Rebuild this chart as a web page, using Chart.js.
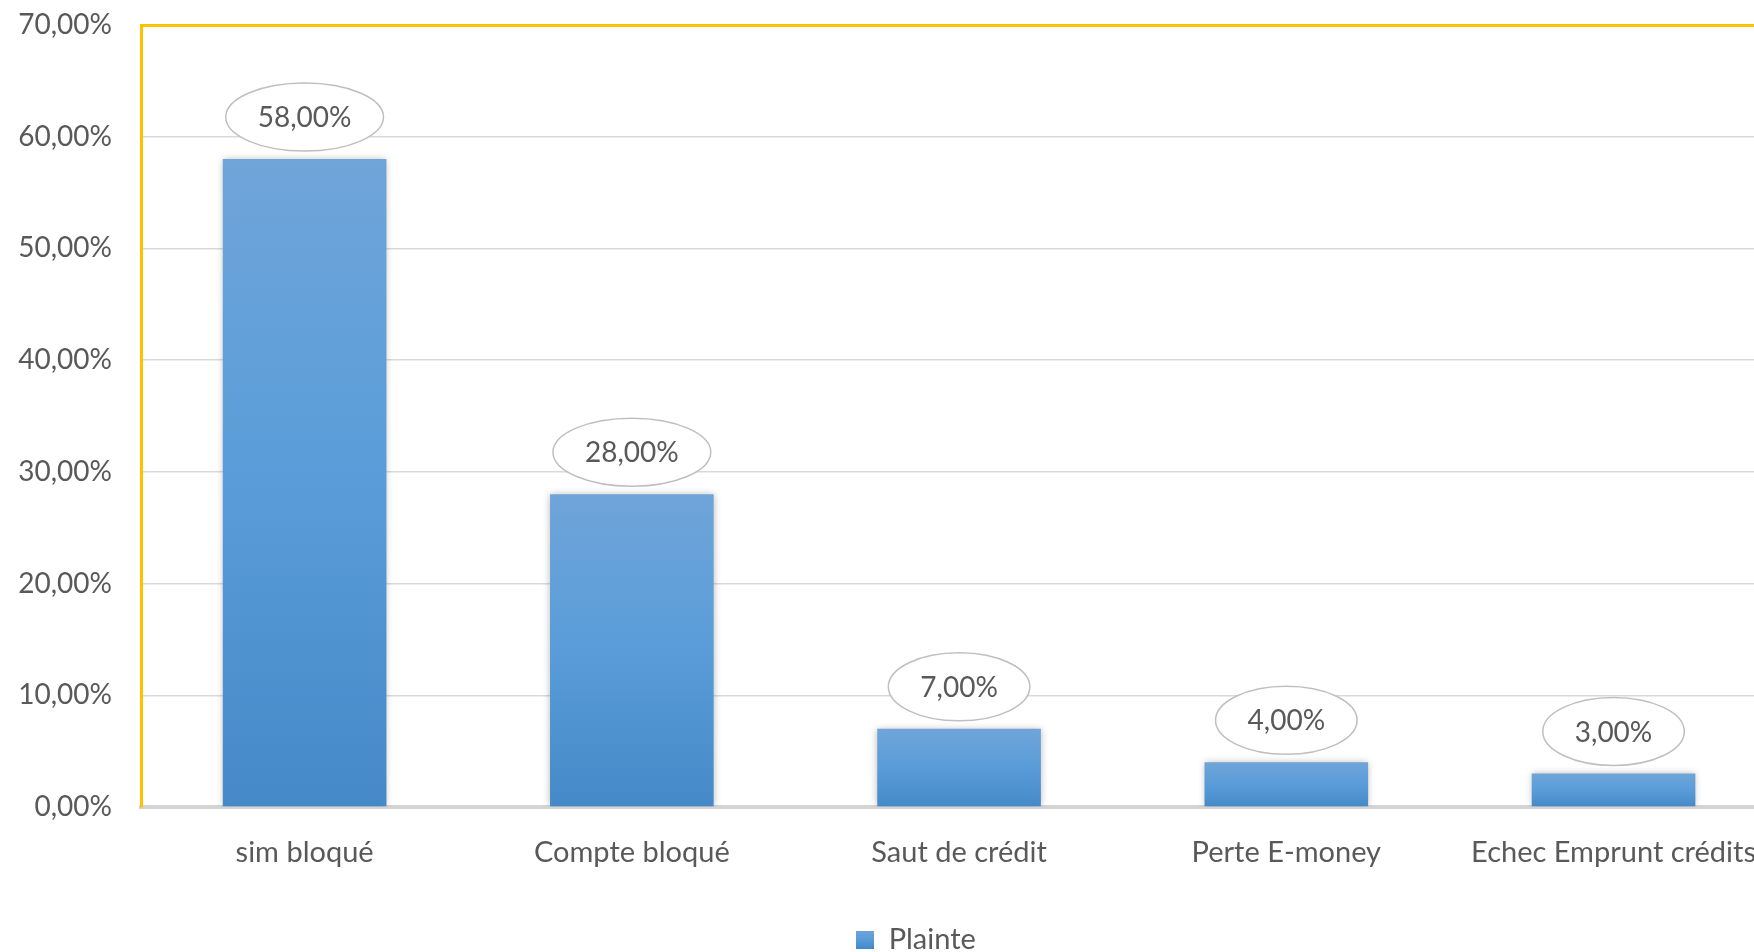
<!DOCTYPE html>
<html>
<head>
<meta charset="utf-8">
<script src="https://cdn.jsdelivr.net/npm/chart.js@4"></script>
<style>
  html, body { margin: 0; padding: 0; background: #fff; overflow: hidden; }
  #wrap { width: 1784px; height: 952px; }
</style>
</head>
<body>
<div id="wrap"><canvas id="chart" width="1784" height="952"></canvas></div>
<script>
  const categories = ['sim bloqué', 'Compte bloqué', 'Saut de crédit', 'Perte E-money', 'Echec Emprunt crédits'];
  const plainteValues = [58, 28, 7, 4, 3];
  const seriesLabel = 'Plainte';
  const yTicks = [0, 10, 20, 30, 40, 50, 60, 70];

  const fontFamily = 'Lato, "Open Sans", sans-serif';
  const textColor = '#595959';

  const formatPercent = (value) => `${Number(value).toFixed(2).replace('.', ',')}%`;

  const barGradient = (ctx, top, bottom) => {
    const g = ctx.createLinearGradient(0, top, 0, bottom);
    g.addColorStop(0, '#6fa5d9');
    g.addColorStop(0.5, '#599cd9');
    g.addColorStop(1, '#4589c8');
    return g;
  };

  // bar background: gradient per bar, from its top to the zero line
  const barFill = (context) => {
    const chart = context.chart;
    const y = chart.scales && chart.scales.y;
    if (!chart.chartArea || !y || context.raw === undefined) return '#599cd9';
    return barGradient(chart.ctx, y.getPixelForValue(context.raw), y.getPixelForValue(0));
  };

  const barShadow = {
    id: 'barShadow',
    beforeDatasetsDraw(chart) {
      const ctx = chart.ctx;
      ctx.save();
      ctx.shadowColor = 'rgba(0, 0, 0, 0.28)';
      ctx.shadowBlur = 7;
    },
    afterDatasetsDraw(chart) {
      chart.ctx.restore();
    },
  };

  // legend sits a bit right of and below the default spot
  const legendShift = {
    id: 'legendShift',
    afterLayout(chart) {
      const lg = chart.legend;
      if (!lg) return;
      lg.left += 24;
      lg.right += 24;
      lg.top += 12;
      lg.bottom += 12;
    },
  };

  const ellipseLabels = {
    id: 'ellipseLabels',
    afterDatasetsDraw(chart) {
      const ctx = chart.ctx;
      const meta = chart.getDatasetMeta(0);
      ctx.save();
      ctx.font = `28px ${fontFamily}`;
      ctx.textAlign = 'center';
      ctx.textBaseline = 'middle';
      meta.data.forEach((bar, i) => {
        const text = formatPercent(chart.data.datasets[0].data[i]);
        const w = ctx.measureText(text).width;
        const cx = bar.x;
        const cy = bar.y - 42;
        ctx.beginPath();
        ctx.ellipse(cx, cy, w / 2 + 32, 34, 0, 0, Math.PI * 2);
        ctx.fillStyle = '#ffffff';
        ctx.fill();
        ctx.lineWidth = 1.5;
        ctx.strokeStyle = '#bfbfbf';
        ctx.stroke();
        ctx.fillStyle = textColor;
        ctx.fillText(text, cx, cy + 1);
      });
      ctx.restore();
    },
  };

  const legendBox = () => {
    const c = document.createElement('canvas');
    c.width = 18;
    c.height = 18;
    const cctx = c.getContext('2d');
    cctx.fillStyle = barGradient(cctx, 0, 18);
    cctx.fillRect(0, 0, 18, 18);
    return c;
  };

  new Chart(document.getElementById('chart'), {
    type: 'bar',
    data: {
      labels: categories,
      datasets: [
        {
          label: seriesLabel,
          data: plainteValues,
          backgroundColor: barFill,
          borderWidth: 0,
          barPercentage: 0.5,
          categoryPercentage: 1,
        },
      ],
    },
    options: {
      responsive: false,
      animation: false,
      layout: { padding: { left: 0, right: 0, top: 25, bottom: 0 } },
      plugins: {
        tooltip: { enabled: false },
        legend: {
          position: 'bottom',
          labels: {
            color: textColor,
            font: { family: fontFamily, size: 29 },
            boxWidth: 18,
            boxHeight: 18,
            padding: 4,
            usePointStyle: true,
            generateLabels: () => [
              {
                text: seriesLabel,
                pointStyle: legendBox(),
                fontColor: textColor,
                lineWidth: 0,
                datasetIndex: 0,
              },
            ],
          },
        },
      },
      scales: {
        x: {
          grid: { display: false, drawTicks: false },
          border: { color: '#d4d4d4', width: 4 },
          ticks: {
            color: textColor,
            font: { family: fontFamily, size: 29 },
            padding: 28,
            maxRotation: 0,
            autoSkip: false,
          },
          afterFit: (scale) => {
            scale.height = 102;
          },
        },
        y: {
          min: 0,
          max: 70,
          afterBuildTicks: (scale) => {
            scale.ticks = yTicks.map((value) => ({ value }));
          },
          grid: {
            drawTicks: false,
            lineWidth: (ctx) => (ctx.tick && ctx.tick.value === 70 ? 3 : 1.5),
            color: (ctx) => (ctx.tick && ctx.tick.value === 70 ? '#ffc000' : '#d9d9d9'),
          },
          border: { color: '#ffc000', width: 3 },
          ticks: {
            color: textColor,
            font: { family: fontFamily, size: 28 },
            padding: 29,
            callback: (value) => formatPercent(value),
          },
          afterFit: (scale) => {
            scale.width = 141;
            scale.paddingTop = 0;
            scale.paddingBottom = 0;
          },
        },
      },
    },
    plugins: [barShadow, legendShift, ellipseLabels],
  });
</script>
</body>
</html>
